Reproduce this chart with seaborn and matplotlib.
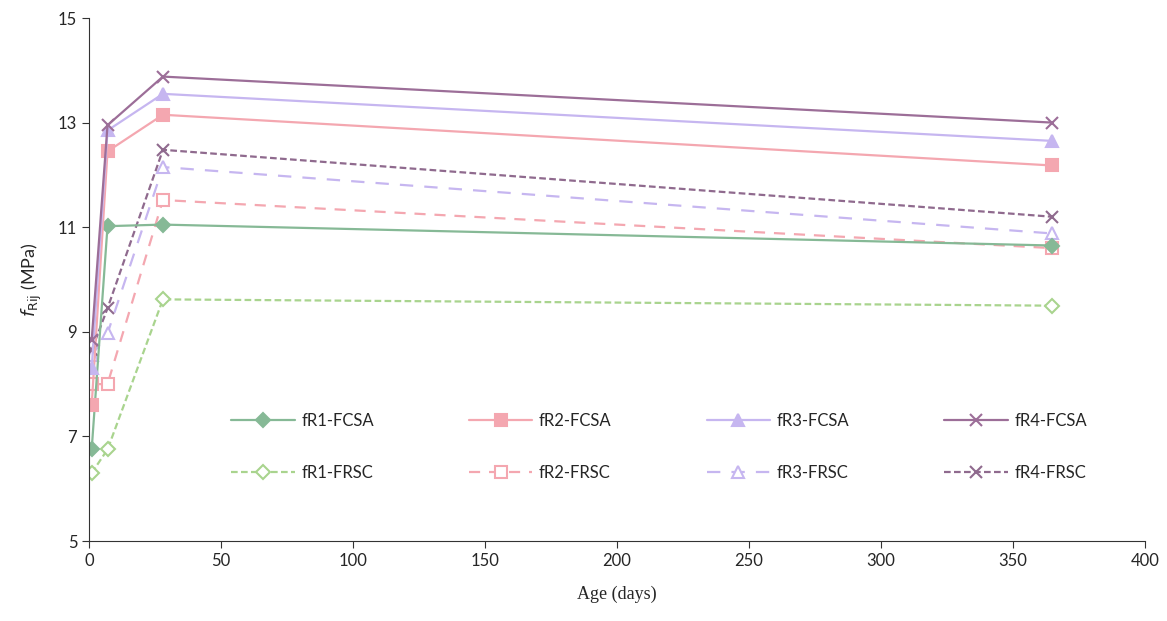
import numpy as np
import pandas as pd
import seaborn as sns
import matplotlib.pyplot as plt

# curing ages (days) and residual flexural strengths (MPa)
age = [1, 7, 28, 365]
fr1_fcsa = [6.75, 11.02, 11.05, 10.65]
fr2_fcsa = [7.60, 12.45, 13.15, 12.18]
fr3_fcsa = [8.30, 12.85, 13.55, 12.65]
fr4_fcsa = [8.84, 12.95, 13.88, 13.00]
fr1_frsc = [6.30, 6.75, 9.62, 9.50]
fr2_frsc = [8.00, 8.00, 11.52, 10.60]
fr3_frsc = [8.55, 8.97, 12.15, 10.88]
fr4_frsc = [8.65, 9.45, 12.48, 11.20]

series = {
    'fR1-FCSA': fr1_fcsa, 'fR2-FCSA': fr2_fcsa, 'fR3-FCSA': fr3_fcsa, 'fR4-FCSA': fr4_fcsa,
    'fR1-FRSC': fr1_frsc, 'fR2-FRSC': fr2_frsc, 'fR3-FRSC': fr3_frsc, 'fR4-FRSC': fr4_frsc,
}

styles = {
    'fR1-FCSA': dict(color='#86b996', marker='D', ls='-', mfc='#86b996', ms=7),
    'fR2-FCSA': dict(color='#f4a7b0', marker='s', ls='-', mfc='#f4a7b0', ms=9),
    'fR3-FCSA': dict(color='#c6b6f0', marker='^', ls='-', mfc='#c6b6f0', ms=9),
    'fR4-FCSA': dict(color='#9c6e98', marker='x', ls='-', mfc='#9c6e98', ms=9),
    'fR1-FRSC': dict(color='#a9d48e', marker='D', ls=(0, (3, 1.5)), mfc='white', ms=7),
    'fR2-FRSC': dict(color='#f4a7b0', marker='s', ls=(0, (5, 4)), mfc='white', ms=9),
    'fR3-FRSC': dict(color='#c6b6f0', marker='^', ls=(0, (6, 5)), mfc='white', ms=9),
    'fR4-FRSC': dict(color='#8f6a8e', marker='x', ls=(0, (3, 1.5)), mfc='white', ms=9),
}

df = pd.DataFrame([(k, a, v) for k, vals in series.items() for a, v in zip(age, vals)],
                  columns=['series', 'age', 'fr'])

sns.set_style('ticks')
plt.rcParams['font.family'] = ['Lato', 'DejaVu Sans']

fig, ax = plt.subplots(figsize=(11.67, 6.21), dpi=100)
fig.subplots_adjust(left=0.0763, right=0.981, bottom=0.1288, top=0.971)

for name in ['fR1-FRSC', 'fR2-FRSC', 'fR3-FRSC', 'fR4-FRSC',
             'fR1-FCSA', 'fR2-FCSA', 'fR3-FCSA', 'fR4-FCSA']:
    st = styles[name]
    sub = df[df['series'] == name]
    sns.lineplot(data=sub, x='age', y='fr', ax=ax, color=st['color'], linestyle=st['ls'],
                 linewidth=1.6, marker=st['marker'], markersize=st['ms'],
                 markerfacecolor=st['mfc'], markeredgecolor=st['color'],
                 markeredgewidth=1.5, label=name)

ax.set_xlim(0, 400)
ax.set_ylim(5, 15)
ax.set_xticks(np.arange(0, 401, 50))
ax.set_yticks([5, 7, 9, 11, 13, 15])
ax.tick_params(labelsize=12, length=5, color='#333333')
for s in ['left', 'bottom']:
    ax.spines[s].set_color('#333333')
sns.despine(ax=ax)

ax.set_xlabel('Age (days)', family='Liberation Serif', fontsize=13, labelpad=12)
ax.set_ylabel(r'$\mathit{f}_{\mathrm{Rij}}$ (MPa)', fontsize=13, labelpad=10)

handles, labels = ax.get_legend_handles_labels()
order = ['fR1-FCSA', 'fR1-FRSC', 'fR2-FCSA', 'fR2-FRSC',
         'fR3-FCSA', 'fR3-FRSC', 'fR4-FCSA', 'fR4-FRSC']
hmap = dict(zip(labels, handles))
ax.legend([hmap[o] for o in order], order, ncol=4, frameon=False,
          loc='center', bbox_to_anchor=(0.54, 0.18), fontsize=12,
          handlelength=3.8, handletextpad=0.4, columnspacing=5.7, labelspacing=2.2)

fig.savefig('out.png', dpi=100)
